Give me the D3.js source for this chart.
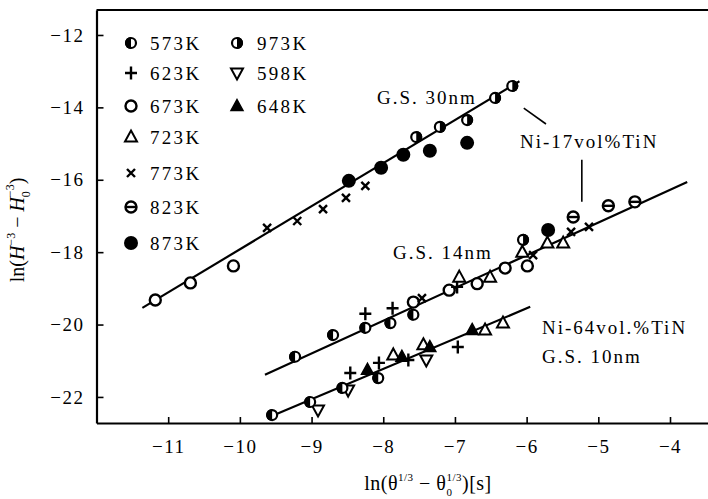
<!DOCTYPE html>
<html>
<head>
  <script src="https://cdn.jsdelivr.net/npm/d3@7"></script>
  <style>
    body { margin: 0; background: #fff; }
    text { font-family: "Liberation Serif", serif; fill: #000; }
  </style>
</head>
<body>
<div id="container"></div>
<script>
  // data: [x, y] = [ln(theta^1/3 - theta0^1/3), ln(H^-3 - H0^-3)]
  const t573 = [[-9.23, -20.89], [-8.70, -20.29], [-8.25, -20.09], [-7.90, -19.96], [-7.58, -19.73],
                [-9.55, -22.50], [-9.02, -22.14], [-8.57, -21.75], [-8.07, -21.48]]
  const t973 = [[-7.54, -14.82], [-7.21, -14.54], [-6.83, -14.35], [-6.44, -13.74], [-6.20, -13.41], [-6.05, -17.66]]
  const t623 = [[-8.25, -19.70], [-7.87, -19.55], [-6.97, -18.96],
                [-8.46, -21.34], [-8.06, -21.06], [-7.65, -20.98], [-6.96, -20.62]]
  const t673 = [[-11.18, -19.32], [-10.69, -18.85], [-10.09, -18.38],
                [-7.58, -19.38], [-7.08, -19.05], [-6.69, -18.87], [-6.30, -18.44], [-5.99, -18.38]]
  const t723 = [[-6.94, -18.69], [-6.51, -18.69], [-6.06, -18.00], [-5.71, -17.75], [-5.49, -17.75],
                [-7.86, -20.84], [-7.44, -20.56], [-6.58, -20.15], [-6.33, -19.96]]
  const t773 = [[-9.62, -17.33], [-9.20, -17.14], [-8.84, -16.81], [-8.52, -16.50], [-8.25, -16.17],
                [-7.46, -19.27], [-5.91, -18.08], [-5.38, -17.44], [-5.13, -17.30]]
  const t823 = [[-5.35, -17.03], [-4.86, -16.72], [-4.49, -16.61]]
  const t873 = [[-8.48, -16.03], [-8.03, -15.67], [-7.72, -15.31], [-7.35, -15.20], [-6.83, -14.98], [-5.70, -17.39]]
  const t598 = [[-8.91, -22.36], [-8.49, -21.81], [-7.40, -20.98]]
  const t648 = [[-8.22, -21.25], [-7.74, -20.89], [-7.35, -20.62], [-6.76, -20.15]]

  // fitted lines
  const fit30 = [[-11.36, -19.54], [-6.10, -13.28]]
  const fit14 = [[-9.65, -21.39], [-3.76, -16.06]]
  const fit10 = [[-9.62, -22.58], [-5.95, -19.51]]

  // leader lines for the Ni-17vol%TiN label
  const leaders = [[[-5.23, -15.45], [-5.23, -16.61]], [[-6.04, -14.02], [-5.73, -14.46]]]

  const xTicks = [-11, -10, -9, -8, -7, -6, -5, -4]
  const yTicks = [-22, -20, -18, -16, -14, -12]

  const legendLeft = ["573K", "623K", "673K", "723K", "773K", "823K", "873K"]
  const legendRight = ["973K", "598K", "648K"]

  // setup
  const width = 708
  const height = 499

  const svg = d3.select("#container")
    .append("svg")
    .attr("width", width)
    .attr("height", height)

  const xScale = d3.scaleLinear().domain([-12, -3.47]).range([96.5, 708])
  const yScale = d3.scaleLinear().domain([-22.72, -11.31]).range([423, 10])

  // frame: top border and the two axes
  svg.append("line")
    .attr("x1", xScale(-12)).attr("x2", width)
    .attr("y1", yScale(-11.31)).attr("y2", yScale(-11.31))
    .attr("stroke", "#000").attr("stroke-width", 2)

  const xAxis = svg.append("g")
    .attr("transform", `translate(0,${yScale(-22.72)})`)
    .call(d3.axisBottom(xScale).tickValues(xTicks).tickSize(-6).tickSizeOuter(0).tickPadding(17)
      .tickFormat(d => "\u2212" + Math.abs(d)))

  const yAxis = svg.append("g")
    .attr("transform", `translate(${xScale(-12)},0)`)
    .call(d3.axisLeft(yScale).tickValues(yTicks).tickSize(-7).tickSizeOuter(0).tickPadding(12)
      .tickFormat(d => "\u2212" + Math.abs(d)))

  svg.selectAll(".domain").attr("stroke-width", 2.2)
  svg.selectAll(".tick line").attr("stroke-width", 1.6)
  svg.selectAll(".tick text")
    .attr("font-family", "Liberation Serif")
    .attr("font-size", 19)
    .attr("letter-spacing", 1.5)

  // fitted lines
  const line = d3.line().x(d => xScale(d[0])).y(d => yScale(d[1]))
  svg.append("g")
    .selectAll("path")
    .data([fit30, fit14, fit10, ...leaders])
    .join("path")
    .attr("d", line)
    .attr("fill", "none")
    .attr("stroke", "#000")
    .attr("stroke-width", (d, i) => i < 3 ? 2.2 : 1.6)

  // marker makers
  const r = 6
  const halfLeft = `M0,${-r}A${r},${r} 0 0,0 0,${r}Z`
  const halfRight = `M0,${-r}A${r},${r} 0 0,1 0,${r}Z`
  const triUp = "M0,-6.5L6,4.5L-6,4.5Z"
  const triDown = "M0,6.5L6,-4.5L-6,-4.5Z"

  function marker(g, kind) {
    if (kind === "573K" || kind === "973K") {
      g.append("circle").attr("r", r - 1).attr("fill", "#fff").attr("stroke", "#000").attr("stroke-width", 2.2)
      g.append("path").attr("d", kind === "573K" ? halfLeft : halfRight).attr("fill", "#000")
    } else if (kind === "623K") {
      g.append("path").attr("d", "M-6,0H6M0,-6.5V6.5").attr("stroke", "#000").attr("stroke-width", 2.4)
    } else if (kind === "673K") {
      g.append("circle").attr("r", r - 0.5).attr("fill", "#fff").attr("stroke", "#000").attr("stroke-width", 2.4)
    } else if (kind === "723K") {
      g.append("path").attr("d", triUp).attr("fill", "#fff").attr("stroke", "#000").attr("stroke-width", 2)
    } else if (kind === "773K") {
      g.append("path").attr("d", "M-4,-4L4,4M4,-4L-4,4").attr("stroke", "#000").attr("stroke-width", 2.4)
    } else if (kind === "823K") {
      g.append("circle").attr("r", r - 0.5).attr("fill", "#fff").attr("stroke", "#000").attr("stroke-width", 2.4)
      g.append("path").attr("d", "M-5,0H5").attr("stroke", "#000").attr("stroke-width", 2.4)
    } else if (kind === "873K") {
      g.append("circle").attr("r", r + 1).attr("fill", "#000")
    } else if (kind === "598K") {
      g.append("path").attr("d", triDown).attr("fill", "#fff").attr("stroke", "#000").attr("stroke-width", 2)
    } else if (kind === "648K") {
      g.append("path").attr("d", triUp).attr("fill", "#000").attr("stroke", "#000").attr("stroke-width", 1.5)
    }
  }

  const series = [
    ["673K", t673], ["773K", t773], ["623K", t623], ["723K", t723], ["598K", t598],
    ["648K", t648], ["573K", t573], ["823K", t823], ["873K", t873], ["973K", t973]
  ]

  const pointGroup = svg.append("g")
  series.forEach(([kind, pts]) => {
    pts.forEach(p => {
      const g = pointGroup.append("g")
        .attr("transform", `translate(${xScale(p[0])},${yScale(p[1])})`)
      marker(g, kind)
    })
  })

  // legend
  const legendRows = [43, 73, 106, 137, 173, 207, 243]
  const legend = svg.append("g")
  legendLeft.forEach((k, i) => {
    marker(legend.append("g").attr("transform", `translate(131,${legendRows[i]})`), k)
    legend.append("text").attr("x", 150).attr("y", legendRows[i] + 6.5)
      .attr("font-size", 19).attr("letter-spacing", 2.3).text(k)
  })
  legendRight.forEach((k, i) => {
    marker(legend.append("g").attr("transform", `translate(237,${legendRows[i]})`), k)
    legend.append("text").attr("x", 257).attr("y", legendRows[i] + 6.5)
      .attr("font-size", 19).attr("letter-spacing", 2.3).text(k)
  })

  // annotations
  const notes = [
    ["G.S. 30nm", 377, 104],
    ["Ni-17vol%TiN", 520, 148],
    ["G.S. 14nm", 393, 259],
    ["Ni-64vol.%TiN", 542, 334],
    ["G.S. 10nm", 542, 363]
  ]
  svg.append("g").selectAll("text")
    .data(notes)
    .join("text")
    .attr("x", d => d[1])
    .attr("y", d => d[2])
    .attr("font-size", 19)
    .attr("letter-spacing", 2)
    .text(d => d[0])

  // axis titles
  const xt = svg.append("text")
    .attr("x", 428).attr("y", 490)
    .attr("text-anchor", "middle")
    .attr("font-size", 20)
    .attr("letter-spacing", 0.5)
  xt.append("tspan").text("ln(\u03b8")
  xt.append("tspan").attr("dy", -9).attr("font-size", 11).text("1/3")
  xt.append("tspan").attr("dy", 9).text(" \u2212 \u03b8")
  xt.append("tspan").attr("dy", 6).attr("font-size", 11).text("0")
  xt.append("tspan").attr("dy", -15).attr("dx", -6).attr("font-size", 11).text("1/3")
  xt.append("tspan").attr("dy", 9).text(")[s]")

  const yt = svg.append("text")
    .attr("transform", "translate(24,230) rotate(-90)")
    .attr("text-anchor", "middle")
    .attr("font-size", 20)
  yt.append("tspan").text("ln(")
  yt.append("tspan").attr("font-style", "italic").text("H")
  yt.append("tspan").attr("dy", -9).attr("font-size", 12).text("\u22123")
  yt.append("tspan").attr("dy", 9).text(" \u2212 ")
  yt.append("tspan").attr("font-style", "italic").text("H")
  yt.append("tspan").attr("dy", 6).attr("font-size", 12).text("0")
  yt.append("tspan").attr("dy", -16).attr("dx", -6).attr("font-size", 12).text("\u22123")
  yt.append("tspan").attr("dy", 10).text(")")
</script>
</body>
</html>
